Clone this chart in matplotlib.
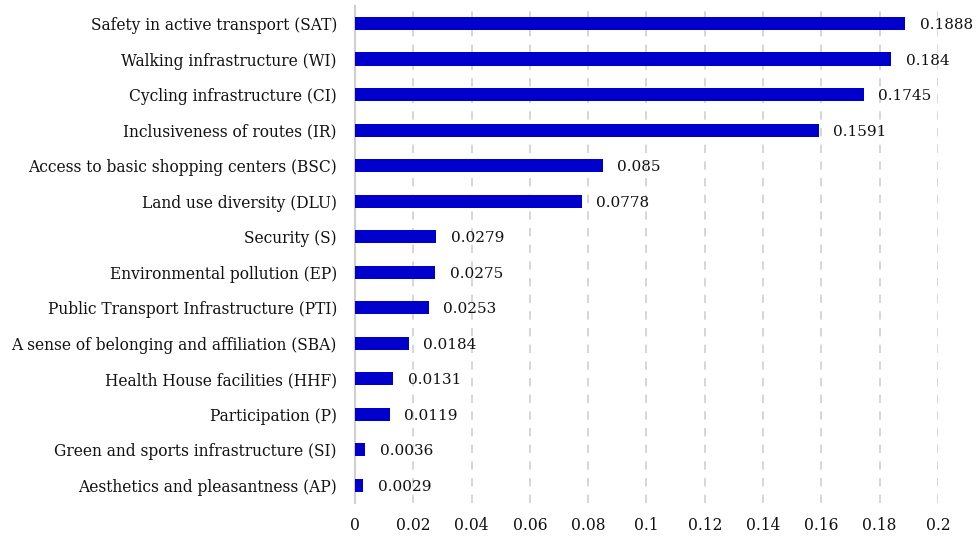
import matplotlib.pyplot as plt

labels = [
    'Safety in active transport (SAT)',
    'Walking infrastructure (WI)',
    'Cycling infrastructure (CI)',
    'Inclusiveness of routes (IR)',
    'Access to basic shopping centers (BSC)',
    'Land use diversity (DLU)',
    'Security (S)',
    'Environmental pollution (EP)',
    'Public Transport Infrastructure (PTI)',
    'A sense of belonging and affiliation (SBA)',
    'Health House facilities (HHF)',
    'Participation (P)',
    'Green and sports infrastructure (SI)',
    'Aesthetics and pleasantness (AP)',
]
weights = [0.1888, 0.184, 0.1745, 0.1591, 0.085, 0.0778, 0.0279,
           0.0275, 0.0253, 0.0184, 0.0131, 0.0119, 0.0036, 0.0029]
value_text = ['0.1888', '0.184', '0.1745', '0.1591', '0.085', '0.0778', '0.0279',
              '0.0275', '0.0253', '0.0184', '0.0131', '0.0119', '0.0036', '0.0029']
xticks = [0, 0.02, 0.04, 0.06, 0.08, 0.1, 0.12, 0.14, 0.16, 0.18, 0.2]
xtick_labels = ['0', '0.02', '0.04', '0.06', '0.08', '0.1', '0.12', '0.14', '0.16', '0.18', '0.2']

plt.rcParams['font.family'] = ['DejaVu Serif']

fig = plt.figure(figsize=(9.79, 5.36), dpi=100)
ax = fig.add_axes([0.3626, 0.0616, 0.5955, 0.9274])

ypos = list(range(len(labels)))
ax.barh(ypos, weights, height=0.375, color='#0000CC', zorder=3)
# value labels sit just right of each bar
for y, w, t in zip(ypos, weights, value_text):
    ax.annotate(t, (w, y), xytext=(10.5, -1), textcoords='offset points',
                va='center', ha='left', fontsize=11, color='#111111')

ax.set_ylim(len(labels) - 0.5, -0.5)
ax.set_xlim(0, 0.2)
ax.set_yticks(ypos)
ax.set_yticklabels(labels, fontsize=11.2, color='#111111')
ax.set_xticks(xticks)
ax.set_xticklabels(xtick_labels, fontsize=11.2, color='#111111')
ax.tick_params(axis='both', length=0)
ax.tick_params(axis='y', pad=13)
ax.tick_params(axis='x', pad=10)

ax.grid(axis='x', color='#d0d0d0', linestyle=(0, (5, 5)), linewidth=1.2, zorder=0)
for side in ['top', 'right', 'bottom']:
    ax.spines[side].set_visible(False)
ax.spines['left'].set_color('#d0d0d0')
ax.spines['left'].set_linewidth(1.5)

fig.savefig('out.png', dpi=100)
